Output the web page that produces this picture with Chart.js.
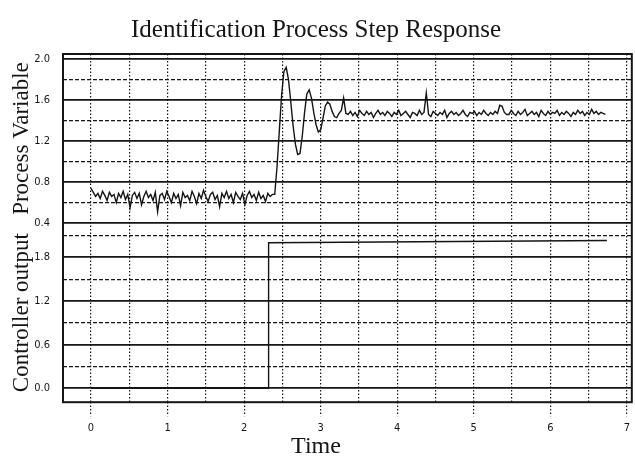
<!DOCTYPE html>
<html><head><meta charset="utf-8">
<script src="https://cdn.jsdelivr.net/npm/chart.js@4.4.1/dist/chart.umd.min.js"></script>
<style>html,body{margin:0;padding:0;background:#fff}#wrap{width:635px;height:461px;position:relative}</style>
</head><body><div id="wrap"><canvas id="c"></canvas></div>
<script>
const TITLE = 'Identification Process Step Response';
const X_TITLE = 'Time';
const PV_TITLE = 'Process Variable';
const CO_TITLE = 'Controller output';

const xMajorTicks = [0, 1, 2, 3, 4, 5, 6, 7];
const xMinorTicks = [0.5, 1.5, 2.5, 3.5, 4.5, 5.5, 6.5];
const pvMajorTicks = [0.4, 0.8, 1.2, 1.6, 2.0];
const pvMinorTicks = [0.6, 1.0, 1.4, 1.8];
const coMajorTicks = [0.0, 0.6, 1.2, 1.8];
const coMinorTicks = [0.3, 0.9, 1.5, 2.1];

// Process variable samples, starting at t = 0, one every 0.03 time units
const pvStart = 0;
const pvStep = 0.03;
const pvValues = [
  0.74,0.70,0.66,0.69,0.64,0.71,0.67,0.62,0.70,0.66,
  0.68,0.60,0.69,0.65,0.71,0.63,0.68,0.55,0.67,0.70,
  0.64,0.69,0.58,0.66,0.71,0.65,0.68,0.62,0.70,0.51,
  0.67,0.69,0.63,0.71,0.66,0.60,0.69,0.64,0.68,0.57,
  0.70,0.65,0.67,0.62,0.71,0.66,0.59,0.69,0.64,0.72,
  0.66,0.61,0.68,0.70,0.63,0.67,0.56,0.69,0.65,0.71,
  0.64,0.68,0.60,0.70,0.66,0.63,0.69,0.58,0.67,0.71,
  0.65,0.68,0.62,0.70,0.64,0.67,0.61,0.69,0.66,0.68,
  0.68,0.95,1.30,1.65,1.88,1.92,1.80,1.58,1.35,1.17,
  1.07,1.08,1.25,1.48,1.66,1.70,1.62,1.48,1.36,1.29,
  1.31,1.42,1.54,1.58,1.56,1.49,1.44,1.43,1.47,1.50,
  1.62,1.47,
  1.46,1.49,1.45,1.48,1.44,1.50,1.47,1.45,1.49,1.46,
  1.48,1.43,1.47,1.50,1.46,1.48,1.45,1.49,1.47,1.44,
  1.48,1.46,1.50,1.45,1.47,1.49,1.46,1.43,1.48,1.47,
  1.45,1.50,1.46,1.48,1.67,1.46,1.44,1.49,1.47,1.45,
  1.48,1.46,1.50,1.43,1.47,1.49,1.46,1.48,1.45,1.47,
  1.50,1.46,1.44,1.48,1.47,1.49,1.45,1.48,1.46,1.50,
  1.47,1.45,1.48,1.46,1.49,1.47,1.55,1.54,1.48,1.46,
  1.46,1.50,1.47,1.45,1.49,1.46,1.48,1.51,1.45,1.47,
  1.49,1.46,1.48,1.44,1.50,1.47,1.45,1.49,1.46,1.48,
  1.47,1.50,1.45,1.48,1.46,1.49,1.47,1.44,1.48,1.46,
  1.50,1.47,1.49,1.45,1.48,1.46,1.51,1.47,1.49,1.46,
  1.48,1.47,1.46
];

// Controller output
const coTimes = [0, 2.32, 2.32, 6.74];
const coValues = [0, 0, 2.0, 2.03];

const X_MIN = -0.366, X_MAX = 7.065;
const PV_MIN = 0.4, PV_MAX = 2.05;
const CO_MIN = -0.19, CO_MAX = 2.27;

const pvData = pvValues.map((v, i) => ({ x: +(pvStart + i * pvStep).toFixed(3), y: v }));
const coData = coTimes.map((t, i) => ({ x: t, y: coValues[i] }));

const INK = '#151515';
const tickFont = { family: "'Liberation Sans Narrow','DejaVu Sans Condensed','Liberation Sans',sans-serif", size: 11 };
const serif = "'Liberation Serif','DejaVu Serif',serif";

function isIn(arr, v) { return arr.some(a => Math.abs(a - v) < 1e-6); }
function mkTicks(a, b) { return a.concat(b).sort((p, q) => p - q).map(v => ({ value: v })); }

function yAxis(majors, minors, min, max, weight, title) {
  return {
    type: 'linear', position: 'left', stack: 'panels', stackWeight: weight,
    min: min, max: max,
    afterBuildTicks: ax => { ax.ticks = mkTicks(majors, minors); },
    afterFit: ax => { ax.width = 63; },
    ticks: {
      autoSkip: false, padding: 13, color: INK, font: tickFont,
      callback: v => isIn(majors, v) ? v.toFixed(1) : ''
    },
    grid: {
      drawTicks: false, color: INK,
      lineWidth: c => (c.tick && isIn(majors, c.tick.value)) ? 1.8 : 1.2
    },
    border: {
      display: false,
      dash: c => (c.tick && !isIn(majors, c.tick.value)) ? [4, 2] : []
    },
    title: { display: true, text: title, color: INK, font: { family: serif, size: 23 }, padding: { top: 8, bottom: 0 } }
  };
}

const framePlugin = {
  id: 'frame',
  afterDraw(chart) {
    const { ctx, chartArea: a } = chart;
    ctx.save();
    ctx.strokeStyle = INK;
    ctx.lineWidth = 2;
    ctx.strokeRect(a.left, a.top, a.right - a.left, a.bottom - a.top);
    ctx.restore();
  }
};

new Chart(document.getElementById('c'), {
  type: 'line',
  data: {
    datasets: [
      { label: PV_TITLE, data: pvData, yAxisID: 'yPV', borderColor: INK, borderWidth: 1.4, pointRadius: 0, tension: 0, fill: false },
      { label: CO_TITLE, data: coData, yAxisID: 'yCO', borderColor: INK, borderWidth: 1.4, pointRadius: 0, tension: 0, fill: false }
    ]
  },
  options: {
    responsive: true, maintainAspectRatio: false, animation: false,
    layout: { padding: { left: 0, right: 3, top: 0, bottom: 0 } },
    plugins: {
      legend: { display: false },
      tooltip: { enabled: false },
      title: { display: true, text: TITLE, color: INK, font: { family: serif, size: 25, weight: 'normal' }, padding: { top: 15, bottom: 9 } },
      subtitle: { display: true, position: 'bottom', text: X_TITLE, color: INK, font: { family: serif, size: 24, weight: 'normal' }, padding: { top: 0, bottom: 0 } }
    },
    scales: {
      yCO: yAxis(coMajorTicks, coMinorTicks, CO_MIN, CO_MAX, 179, CO_TITLE),
      yPV: yAxis(pvMajorTicks, pvMinorTicks, PV_MIN, PV_MAX, 169, PV_TITLE),
      x: {
        type: 'linear', position: 'bottom', min: X_MIN, max: X_MAX,
        afterBuildTicks: ax => { ax.ticks = mkTicks(xMajorTicks, xMinorTicks); },
        afterFit: ax => { ax.height = 30; },
        ticks: {
          autoSkip: false, maxRotation: 0, padding: 5, color: INK, font: tickFont,
          callback: v => isIn(xMajorTicks, v) ? String(v) : ''
        },
        grid: {
          color: INK, lineWidth: 1.2, tickLength: 14, tickWidth: 1.2,
          tickColor: c => (c.tick && isIn(xMajorTicks, c.tick.value)) ? INK : 'rgba(0,0,0,0)',
          tickBorderDash: [1.5, 2]
        },
        border: { display: false, dash: [1.5, 2] }
      }
    }
  },
  plugins: [framePlugin]
});
</script>
</body></html>
